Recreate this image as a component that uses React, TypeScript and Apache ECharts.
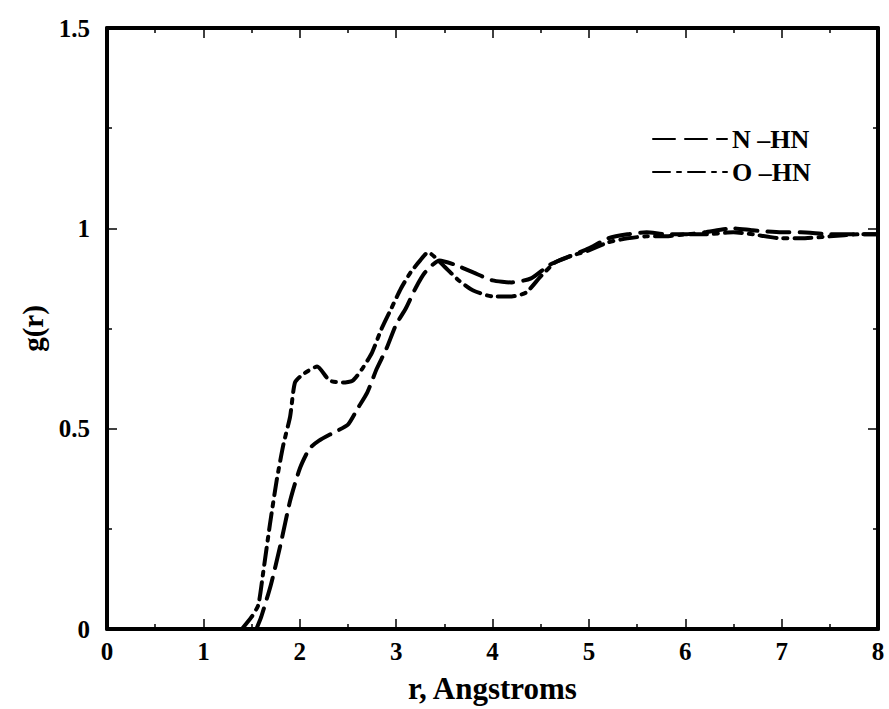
import React, { useEffect, useRef } from "react";
import * as echarts from "echarts";

const nhnR = [1.55, 1.6, 1.7, 1.8, 1.9, 2.0, 2.1, 2.2, 2.35, 2.5, 2.6, 2.7, 2.8, 2.9, 3.0, 3.1, 3.2, 3.3, 3.45, 3.6, 3.8, 4.0, 4.2, 4.4, 4.6, 4.8, 5.0, 5.2, 5.4, 5.6, 5.8, 6.0, 6.2, 6.5, 6.7, 7.0, 7.2, 7.5, 7.8, 8.0];
const nhnG = [0, 0.03, 0.11, 0.21, 0.32, 0.4, 0.45, 0.47, 0.49, 0.51, 0.55, 0.59, 0.65, 0.7, 0.76, 0.8, 0.85, 0.89, 0.92, 0.91, 0.89, 0.87, 0.865, 0.875, 0.91, 0.93, 0.95, 0.975, 0.985, 0.99, 0.985, 0.985, 0.99, 1.0, 0.995, 0.99, 0.99, 0.985, 0.985, 0.985];

const ohnR = [1.4, 1.5, 1.57, 1.62, 1.69, 1.76, 1.83, 1.9, 1.95, 2.03, 2.18, 2.31, 2.45, 2.55, 2.65, 2.75, 2.85, 2.95, 3.05, 3.15, 3.25, 3.33, 3.5, 3.65, 3.8, 4.0, 4.2, 4.35, 4.5, 4.65, 4.8, 5.0, 5.2, 5.4, 5.6, 5.8, 6.0, 6.2, 6.5, 6.7, 7.0, 7.2, 7.5, 7.8, 8.0];
const ohnG = [0, 0.03, 0.06, 0.14, 0.26, 0.37, 0.46, 0.53, 0.615, 0.635, 0.655, 0.62, 0.615, 0.62, 0.65, 0.69, 0.75, 0.8, 0.85, 0.89, 0.92, 0.94, 0.905, 0.87, 0.845, 0.83, 0.83, 0.84, 0.88, 0.915, 0.93, 0.945, 0.965, 0.975, 0.98, 0.98, 0.985, 0.985, 0.99, 0.985, 0.975, 0.975, 0.98, 0.985, 0.985];

const seriesNames = ["N \u2013HN", "O \u2013HN"];
const xTitle = "r, Angstroms";
const yTitle = "g(r)";

const FONT = "Liberation Serif";

export default function App() {
  const ref = useRef<HTMLDivElement>(null);
  useEffect(() => {
    if (!ref.current) return;
    const chart = echarts.init(ref.current, null, { renderer: "svg" });
    const tickFont = { fontFamily: FONT, fontWeight: "bold" as const, fontSize: 25, color: "#000" };
    const axisLine = { show: true, onZero: false, lineStyle: { color: "#000", width: 4 } };
    const xBase = {
      type: "value" as const,
      min: 0,
      max: 8,
      interval: 1,
      splitLine: { show: false },
      axisLine,
      axisTick: { show: true, inside: true, length: 10, lineStyle: { color: "#000", width: 1.5 } },
      minorTick: { show: true, splitNumber: 2, length: 5, lineStyle: { color: "#000", width: 1.5 } },
    };
    const yBase = {
      type: "value" as const,
      min: 0,
      max: 1.5,
      interval: 0.5,
      splitLine: { show: false },
      axisLine,
      axisTick: { show: true, inside: true, length: 10, lineStyle: { color: "#000", width: 1.5 } },
      minorTick: { show: true, splitNumber: 2, length: 5, lineStyle: { color: "#000", width: 1.5 } },
    };
    chart.setOption({
      animation: false,
      backgroundColor: "#fff",
      grid: { left: 107, right: 11, top: 28, bottom: 79 },
      legend: {
        orient: "vertical",
        left: 647,
        top: 121,
        itemWidth: 74,
        itemHeight: 26,
        itemGap: 7,
        itemStyle: { opacity: 0 },
        textStyle: { fontFamily: FONT, fontWeight: "bold", fontSize: 26, color: "#000" },
        data: seriesNames,
      },
      xAxis: [
        {
          ...xBase,
          position: "bottom",
          name: xTitle,
          nameLocation: "middle",
          nameGap: 44,
          nameTextStyle: { fontFamily: FONT, fontWeight: "bold", fontSize: 31, color: "#000" },
          axisLabel: { ...tickFont, margin: 10 },
        },
        { ...xBase, position: "top", axisLabel: { show: false } },
      ],
      yAxis: [
        {
          ...yBase,
          position: "left",
          name: yTitle,
          nameLocation: "middle",
          nameGap: 56,
          nameRotate: 90,
          nameTextStyle: { fontFamily: FONT, fontWeight: "bold", fontSize: 29, color: "#000" },
          axisLabel: { ...tickFont, margin: 17 },
        },
        { ...yBase, position: "right", axisLabel: { show: false } },
      ],
      series: [
        {
          name: seriesNames[0],
          type: "line",
          symbol: "none",
          smooth: 0.2,
          data: nhnR.map((r, i) => [r, nhnG[i]]),
          lineStyle: { color: "#000", width: 4, type: [22, 10], cap: "round" },
          itemStyle: { color: "#000" },
        },
        {
          name: seriesNames[1],
          type: "line",
          symbol: "none",
          smooth: 0.2,
          data: ohnR.map((r, i) => [r, ohnG[i]]),
          lineStyle: { color: "#000", width: 4, type: [17, 7, 4, 7], cap: "round" },
          itemStyle: { color: "#000" },
        },
      ],
    });
    return () => chart.dispose();
  }, []);
  return <div ref={ref} style={{ width: 889, height: 709, position: "absolute", left: 0, top: 0 }} />;
}
